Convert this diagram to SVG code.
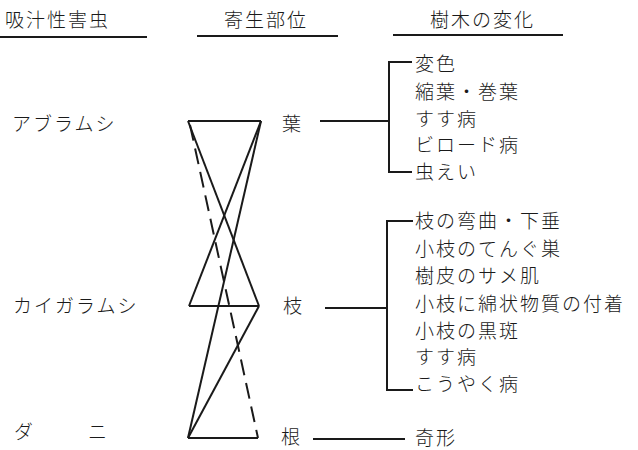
<svg xmlns="http://www.w3.org/2000/svg" width="638" height="450" viewBox="0 0 638 450">
<style>
text{font-family:"Noto Sans CJK JP","Noto Sans CJK SC",sans-serif;font-size:19px;fill:#1a1a1a;font-weight:300;letter-spacing:2px}
.ln{stroke:#1a1a1a;stroke-width:2;fill:none}
.dash{stroke:#1a1a1a;stroke-width:2;fill:none;stroke-dasharray:16 8}
</style>
<rect width="638" height="450" fill="#fff"/>
<g id="headers">
<text x="5" y="27">吸汁性害虫</text>
<line class="ln" x1="0" y1="37" x2="147" y2="37"/>
<text x="224" y="27">寄生部位</text>
<line class="ln" x1="197" y1="36" x2="338" y2="36"/>
<text x="430" y="27">樹木の変化</text>
<line class="ln" x1="393" y1="35" x2="563" y2="35"/>
</g>
<g id="insect-aphid"><text x="12" y="131">アブラムシ</text></g>
<g id="insect-scale"><text x="13" y="313">カイガラムシ</text></g>
<g id="insect-mite"><text y="439"><tspan x="14">ダ</tspan><tspan x="88">ニ</tspan></text></g>
<g id="part-leaf"><text x="282" y="131">葉</text></g>
<g id="part-branch"><text x="283" y="313">枝</text></g>
<g id="part-root"><text x="281" y="444">根</text></g>
<g id="changes-leaf">
<text x="415" y="71">変色</text>
<text x="415" y="99">縮葉・巻葉</text>
<text x="415" y="126">すす病</text>
<text x="415" y="152">ビロード病</text>
<text x="415" y="179">虫えい</text>
</g>
<g id="changes-branch">
<text x="415" y="228">枝の弯曲・下垂</text>
<text x="415" y="256">小枝のてんぐ巣</text>
<text x="415" y="283">樹皮のサメ肌</text>
<text x="415" y="311">小枝に綿状物質の付着</text>
<text x="415" y="338">小枝の黒斑</text>
<text x="415" y="364">すす病</text>
<text x="415" y="391">こうやく病</text>
</g>
<g id="changes-root">
<text x="415" y="445">奇形</text>
</g>
<g id="connectors">
<line class="ln" x1="188" y1="121" x2="261" y2="121"/>
<line class="ln" x1="189" y1="306" x2="259" y2="306"/>
<line class="ln" x1="188" y1="438" x2="258" y2="438"/>
<line class="ln" x1="188" y1="121" x2="259" y2="306"/>
<line class="ln" x1="261" y1="121" x2="189" y2="306"/>
<line class="ln" x1="261" y1="121" x2="188" y2="438"/>
<line class="ln" x1="259" y1="306" x2="188" y2="438"/>
<line class="dash" x1="190" y1="125" x2="258" y2="438"/>
<line class="ln" x1="320" y1="121" x2="389" y2="121"/>
<polyline class="ln" points="412,62 389,62 389,172 412,172"/>
<line class="ln" x1="325" y1="308" x2="387" y2="308"/>
<polyline class="ln" points="413,221 387,221 387,390 413,390"/>
<line class="ln" x1="313" y1="439" x2="405" y2="439"/>
</g>
</svg>
